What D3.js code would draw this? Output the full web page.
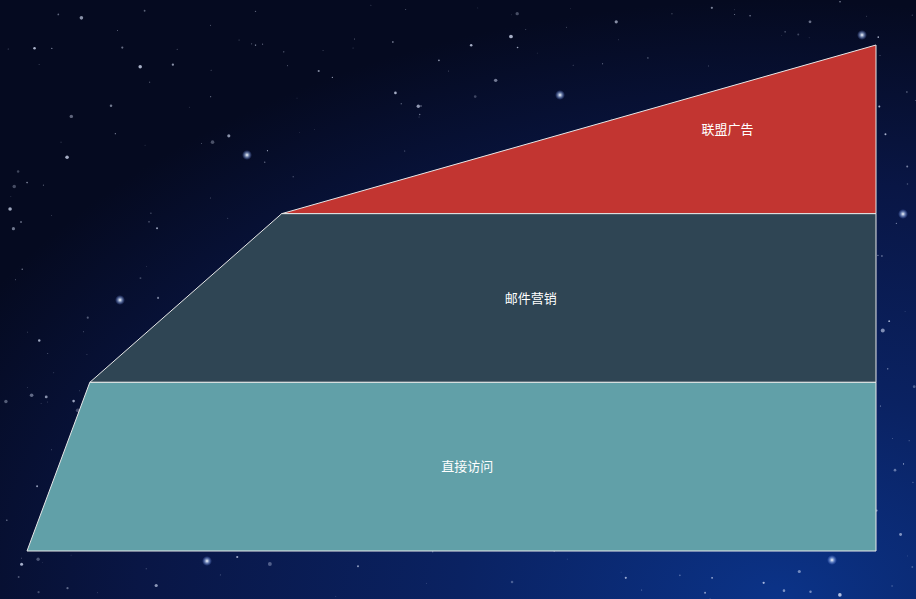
<!DOCTYPE html>
<html>
<head>
<meta charset="utf-8">
<script src="https://cdn.jsdelivr.net/npm/d3@7/dist/d3.min.js"></script>
<style>
  html, body { margin: 0; padding: 0; background: #050a1c; overflow: hidden; }
</style>
</head>
<body>
<div id="chart"></div>
<script>
var W = 916, H = 599;

// funnel data, top to bottom
var categories = ["联盟广告", "邮件营销", "直接访问"];
var values = [70, 92.6, 100];          // width at the bottom edge of each layer
var topValue = 0;                      // width at the very top
var colors = ["#c23531", "#2f4554", "#61a0a8"];

var fLeft = 27, fRight = 876, fTop = 45, fBottom = 551;

var svg = d3.select("#chart")
    .append("svg")
    .attr("width", W)
    .attr("height", H);

var defs = svg.append("defs");

// space background
var bg = defs.append("radialGradient")
    .attr("id", "space")
    .attr("cx", "85%").attr("cy", "100%").attr("r", "100%");
bg.append("stop").attr("offset", "0%").attr("stop-color", "#0b3388");
bg.append("stop").attr("offset", "35%").attr("stop-color", "#0a2262");
bg.append("stop").attr("offset", "70%").attr("stop-color", "#091645");
bg.append("stop").attr("offset", "100%").attr("stop-color", "#050a20");

var glow = defs.append("radialGradient").attr("id", "star");
glow.append("stop").attr("offset", "0%").attr("stop-color", "#ffffff").attr("stop-opacity", 1);
glow.append("stop").attr("offset", "40%").attr("stop-color", "#bcd4ff").attr("stop-opacity", 0.6);
glow.append("stop").attr("offset", "100%").attr("stop-color", "#6a8fff").attr("stop-opacity", 0);

svg.append("rect")
    .attr("width", W)
    .attr("height", H)
    .attr("fill", "url(#space)");

// decorative stars (seeded, so every render is the same)
var rand = d3.randomLcg(0.4217);
var stars = d3.range(420).map(function() {
  return { x: rand() * W, y: rand() * H, r: 0.4 + Math.pow(rand(), 3) * 1.6, o: 0.25 + rand() * 0.55 };
});
svg.append("g")
  .selectAll("circle")
  .data(stars)
  .join("circle")
    .attr("cx", function(d) { return d.x; })
    .attr("cy", function(d) { return d.y; })
    .attr("r", function(d) { return d.r; })
    .attr("fill", "#dfe8ff")
    .attr("opacity", function(d) { return d.o; });

var bright = [[207, 561], [832, 560], [903, 214], [862, 35], [120, 300], [560, 95], [247, 155]];
svg.append("g")
  .selectAll("circle")
  .data(bright)
  .join("circle")
    .attr("cx", function(d) { return d[0]; })
    .attr("cy", function(d) { return d[1]; })
    .attr("r", 5)
    .attr("fill", "url(#star)");

// scales
var wScale = d3.scaleLinear().domain([0, 100]).range([0, fRight - fLeft]);
var yScale = d3.scaleBand().domain(categories).range([fTop, fBottom]).padding(0);

var layers = categories.map(function(c, i) {
  var wTop = wScale(i === 0 ? topValue : values[i - 1]);
  var wBot = wScale(values[i]);
  var y0 = yScale(c), y1 = y0 + yScale.bandwidth();
  return {
    name: c,
    color: colors[i],
    pts: [[fRight - wTop, y0], [fRight, y0], [fRight, y1], [fRight - wBot, y1]]
  };
});

var g = svg.append("g");

g.selectAll("path")
  .data(layers)
  .join("path")
    .attr("d", function(d) { return "M" + d.pts.join("L") + "Z"; })
    .attr("fill", function(d) { return d.color; })
    .attr("stroke", "#e8e8e8")
    .attr("stroke-width", 1)
    .attr("stroke-linejoin", "round");

g.selectAll("text")
  .data(layers)
  .join("text")
    .attr("x", function(d) { return d3.mean(d.pts, function(p) { return p[0]; }); })
    .attr("y", function(d) { return (d.pts[0][1] + d.pts[2][1]) / 2; })
    .attr("dy", "0.35em")
    .attr("text-anchor", "middle")
    .attr("fill", "#ffffff")
    .style("font-family", "'Noto Sans CJK SC', sans-serif")
    .style("font-size", "13px")
    .text(function(d) { return d.name; });
</script>
</body>
</html>
